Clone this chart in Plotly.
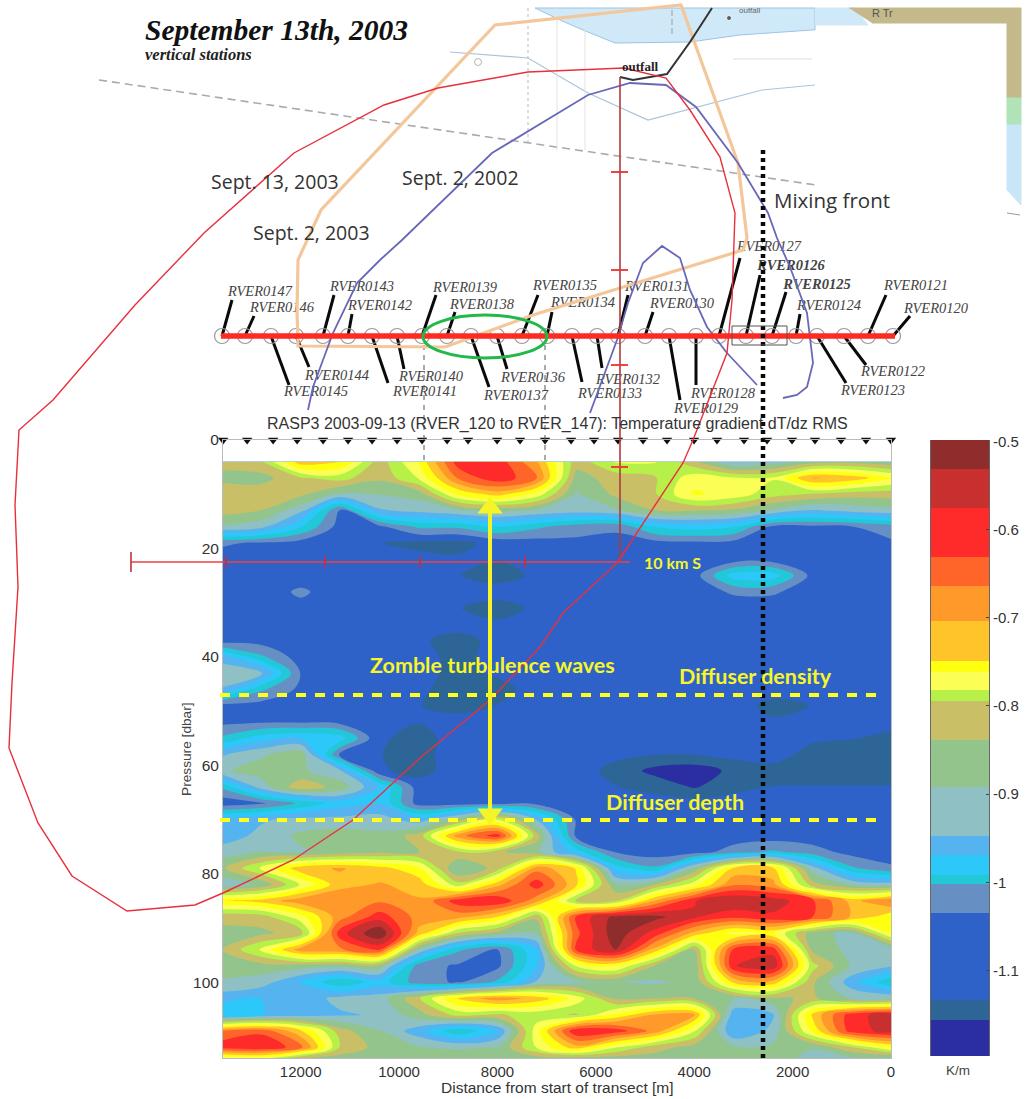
import numpy as np
import plotly.graph_objects as go

W, H = 1026, 1099

# ---------- contour data ----------
distance_m = [13600,12800,12000,11200,10400,9600,8800,8000,7200,6400,5600,4800,4000,3200,2400,1600,800,0]
pressure_dbar = [4,7,10,13,16,19,22,25,28,31,34,37,40,43,46,49,52,55,58,61,64,67,70,73,76,79,82,85,88,91,94,97,100,103,106,109,112,114]
gradient_hundredths = [
 [-82,-80,-72,-74,-82,-76,-60,-60,-70,-82,-78,-78,-83,-95,-92,-87,-86,-88],
 [-86,-86,-80,-79,-83,-78,-66,-59,-66,-86,-82,-80,-77,-78,-78,-70,-72,-76],
 [-80,-81,-83,-90,-89,-87,-76,-73,-77,-90,-83,-80,-76,-77,-79,-80,-82,-82],
 [-82,-84,-93,-105,-95,-93,-90,-88,-90,-92,-90,-84,-84,-85,-90,-95,-93,-91],
 [-90,-93,-99,-108,-106,-100,-100,-99,-100,-102,-103,-99,-98,-99,-106,-106,-104,-102],
 [-103,-105,-108,-112,-113,-114,-114,-110,-108,-106,-106,-107,-106,-107,-108,-108,-107,-105],
 [-108,-109,-109,-110,-110,-110,-112,-113,-109,-109,-109,-109,-109,-109,-109,-109,-109,-108],
 [-109,-109,-108,-109,-109,-109,-113,-114,-112,-109,-109,-110,-108,-98,-98,-107,-109,-109],
 [-109,-108,-103,-108,-110,-110,-110,-110,-109,-109,-109,-109,-109,-103,-103,-109,-109,-109],
 [-109,-108,-106,-109,-110,-110,-113,-114,-112,-109,-109,-109,-109,-109,-109,-109,-109,-109],
 [-109,-109,-109,-109,-110,-110,-110,-112,-110,-109,-109,-109,-109,-109,-109,-109,-109,-109],
 [-109,-108,-109,-109,-110,-112,-114,-111,-109,-109,-109,-109,-109,-109,-113,-113,-109,-109],
 [-96,-100,-109,-109,-109,-110,-114,-110,-109,-109,-109,-109,-109,-109,-110,-110,-109,-109],
 [-90,-93,-104,-109,-109,-110,-114,-112,-109,-109,-109,-109,-109,-109,-109,-109,-109,-109],
 [-95,-100,-106,-109,-109,-112,-114,-114,-110,-109,-109,-109,-109,-109,-109,-109,-109,-109],
 [-108,-108,-109,-109,-109,-113,-114,-113,-109,-109,-109,-109,-109,-109,-114,-113,-109,-109],
 [-106,-105,-105,-107,-112,-113,-110,-109,-109,-109,-109,-109,-109,-109,-112,-109,-109,-110],
 [-100,-98,-97,-98,-112,-114,-110,-109,-109,-109,-109,-110,-110,-109,-109,-112,-113,-114],
 [-95,-90,-86,-105,-113,-114,-109,-109,-109,-109,-111,-113,-113,-110,-110,-114,-114,-114],
 [-90,-87,-88,-94,-112,-114,-109,-109,-109,-109,-114,-117,-118,-115,-114,-114,-114,-114],
 [-100,-92,-81,-86,-97,-109,-109,-109,-109,-109,-113,-114,-116,-114,-113,-113,-113,-113],
 [-110,-105,-100,-98,-97,-108,-109,-108,-107,-109,-109,-109,-109,-109,-109,-109,-109,-109],
 [-96,-95,-93,-93,-92,-96,-86,-78,-95,-105,-109,-109,-109,-109,-109,-109,-109,-109],
 [-96,-93,-88,-86,-88,-82,-68,-60,-82,-106,-109,-109,-109,-109,-109,-109,-109,-109],
 [-92,-89,-90,-87,-85,-84,-80,-83,-88,-98,-104,-109,-108,-102,-100,-102,-107,-108],
 [-85,-78,-72,-70,-73,-76,-90,-82,-68,-75,-98,-100,-88,-74,-74,-92,-100,-103],
 [-93,-88,-78,-72,-70,-72,-79,-72,-60,-74,-88,-84,-77,-67,-69,-82,-90,-92],
 [-75,-73,-68,-67,-67,-70,-60,-58,-69,-80,-80,-70,-58,-53,-55,-62,-72,-66],
 [-83,-82,-77,-68,-60,-68,-69,-75,-83,-62,-52,-52,-57,-62,-59,-63,-71,-76],
 [-85,-85,-82,-60,-50,-72,-80,-86,-89,-64,-51,-60,-72,-77,-76,-87,-91,-76],
 [-84,-78,-68,-67,-62,-90,-100,-104,-97,-62,-53,-72,-84,-62,-60,-85,-91,-92],
 [-86,-86,-87,-88,-86,-102,-105,-106,-97,-78,-76,-84,-88,-58,-54,-79,-90,-94],
 [-90,-92,-97,-100,-98,-102,-105,-100,-94,-91,-89,-90,-88,-74,-72,-83,-96,-100],
 [-96,-97,-96,-93,-92,-80,-74,-68,-72,-77,-85,-84,-84,-89,-85,-83,-90,-90],
 [-99,-97,-96,-95,-94,-86,-79,-80,-79,-80,-76,-70,-70,-96,-95,-74,-60,-55],
 [-66,-64,-74,-82,-89,-96,-100,-97,-77,-58,-60,-68,-78,-97,-93,-76,-60,-56],
 [-60,-58,-65,-80,-86,-89,-90,-89,-78,-72,-78,-82,-86,-88,-88,-89,-80,-76],
 [-78,-77,-84,-86,-86,-86,-86,-86,-86,-86,-86,-86,-86,-87,-88,-90,-90,-90],
]
level_edges = [-1.197,-1.156,-1.133,-1.035,-1.002,-0.992,-0.969,-0.947,-0.892,-0.839,-0.795,-0.782,-0.762,-0.749,-0.704,-0.664,-0.631,-0.576,-0.531,-0.4985]
level_colors = ["#2b2ea0","#2d6696","#2f62c8","#6690c4","#22c8d8","#2cc8fa","#55b4f0","#8fc1c4","#93c48c","#c9bf66","#b8f04a","#fbff55","#ffff10","#ffc42a","#ff9a2a","#ff6528","#ff2a2a","#c8302f","#8f2d2d"]
colorbar_ticks = [-0.5,-0.6,-0.7,-0.8,-0.9,-1.0,-1.1]
colorbar_ticktext = ["-0.5","-0.6","-0.7","-0.8","-0.9","-1","-1.1"]
pressure_ticks = [0,20,40,60,80,100]
distance_ticks = [12000,10000,8000,6000,4000,2000,0]
distance_ticktext = ["12000","10000","8000","6000","4000","2000","0"]
station_distance_m = [13577,13089,12561,12073,11545,11037,10549,10041,9533,9024,8598,8008,7541,7033,6504,6037,5549,5041,4553,4004,3537,2988,2520,2012,1545,1016,508,0]

# ---------- map overlay, in page pixels ----------
sept13_x = [230,195,127,72,38,9,12,18,15,19,53,135,204,294,384,438,528,624,666,690,720,735,732,727,693,683,640,618,563,540,490,420,353,293,223,230]
sept13_y = [890,905,911,876,823,748,683,587,505,430,400,305,233,153,105,88,72,68,78,110,157,213,300,353,440,463,528,562,613,647,700,758,820,860,893,890]
sept2_2002_x = [308,313,333,357,380,402,492,522,588,630,666,696,738,768,777,790,807,813,807,797,783]
sept2_2002_y = [410,387,333,283,260,240,153,135,95,83,85,107,163,213,238,267,313,363,387,395,398]
bump_2002_x = [590,607,617,628,643,662,680,690,707,727,757]
bump_2002_y = [413,367,340,303,263,246,258,290,327,353,385]
sept2_2003_x = [445,298,297,298,321,495,681,738,747,743,620,533,445]
sept2_2003_y = [347,346,310,260,210,25,5,163,238,250,288,315,347]
outfall_x = [712,690,667,633,620]
outfall_y = [8,42,74,80,77]

circle_x = [222,245,271,296,323,348,372,397,422,447,471,497,522,547,572,597,618,645,669,696,719,746,772,796,817,844,868,893]
stem_end_x = [232,254,289,309,334,352,388,404,436,455,489,507,538,552,582,602,628,653,680,696,740,760,786,800,846,866,886,910]
stem_end_y = [300,316,385,367,295,314,383,369,295,312,387,369,295,312,382,368,295,312,400,385,258,275,292,314,383,365,295,316]
station_names = ["RVER0147","RVER0146","RVER0145","RVER0144","RVER0143","RVER0142","RVER0141","RVER0140","RVER0139","RVER0138","RVER0137","RVER0136","RVER0135","RVER0134","RVER0133","RVER0132","RVER0131","RVER0130","RVER0129","RVER0128","RVER0127","RVER0126","RVER0125","RVER0124","RVER0123","RVER0122","RVER0121","RVER0120"]
label_x = [260,282,316,337,362,380,425,431,465,482,516,533,565,583,610,628,657,682,706,723,769,791,817,829,873,893,916,936]
label_y = [292,308,392,376,287,306,392,377,288,305,396,378,286,303,394,380,287,304,409,394,247,266,285,306,391,372,286,309]
bold_stations = ["RVER0126","RVER0125"]

fig = go.Figure()

# contour
z = np.array(gradient_hundredths, dtype=float) / 100
z_index = np.interp(z, level_edges, np.arange(len(level_edges)))
n = len(level_colors)
steps = []
for i, c in enumerate(level_colors):
    steps += [[i / n, c], [(i + 1) / n, c]]
fig.add_trace(go.Contour(
    x=distance_m, y=pressure_dbar, z=z_index, zmin=0, zmax=n,
    colorscale=steps, showscale=False, hoverinfo="skip",
    contours=dict(start=1, end=n - 1, size=1, coloring="fill"),
    line=dict(width=0, smoothing=1.0), xaxis="x", yaxis="y"))
fig.add_trace(go.Scatter(
    x=station_distance_m, y=[0] * len(station_distance_m), mode="markers",
    marker=dict(symbol="triangle-down", size=9, color="#111"),
    cliponaxis=False, xaxis="x", yaxis="y", showlegend=False))

# colorbar
fig.add_trace(go.Heatmap(
    x=[0, 1], y=level_edges, z=[[i, i] for i in range(n)], zmin=-0.5, zmax=n - 0.5,
    colorscale=[[s[0], s[1]] for s in steps], showscale=False, hoverinfo="skip",
    xaxis="x3", yaxis="y3"))


def px_line(x, y, color, width, dash="solid", fill=None, fillcolor=None):
    fig.add_trace(go.Scatter(
        x=x, y=y, mode="lines", line=dict(color=color, width=width, dash=dash),
        fill=fill, fillcolor=fillcolor, xaxis="x2", yaxis="y2",
        showlegend=False, hoverinfo="skip", cliponaxis=False))


# map background
px_line([535,560,583,615,690,740,812,815,815,535], [8,20,30,43,42,35,30,30,8,8], "#9cc4e4", 1, fill="toself", fillcolor="#d0e9f8")
px_line([815,855,868,815], [8,8,25,25], "#d0e9f8", 1, fill="toself", fillcolor="#d0e9f8")
px_line([849,1021,1021,1007,1007,872], [8,8,98,98,23,23], "#c3b98a", 1, fill="toself", fillcolor="#c3b98a")
px_line([1007,1021,1021,1007,1007], [98,98,125,125,98], "#b0e4b8", 1, fill="toself", fillcolor="#b0e4b8")
px_line([1007,1021,1021,1007,1007], [125,125,205,190,125], "#c8e6f8", 1, fill="toself", fillcolor="#c8e6f8")
px_line([1007,1020], [213,215], "#999", 1)
px_line([99,816], [80,185], "#aaaaaa", 1.6, "8px,5px")
px_line([450,528,588,648,762,815], [52,58,93,120,90,85], "#a8c4dc", 1.2)
px_line([528,528], [8,142], "#bbbbbb", 1, "3px,3px")
px_line([557,557], [8,150], "#e3e3e3", 1)
px_line([585,585], [8,150], "#e3e3e3", 1)
px_line([733,812], [59,59], "#dddddd", 1)
px_line([672,672], [10,37], "#aaaaaa", 1.2, "6px,3px")
px_line([424,424], [345,462], "#555555", 1, "5px,5px")
px_line([545,545], [345,462], "#555555", 1, "5px,5px")

# stems
for x0, x1, y1 in zip(circle_x, stem_end_x, stem_end_y):
    px_line([x0, x1], [336, y1], "#0a0a0a", 3)
fig.add_trace(go.Scatter(
    x=circle_x, y=[336] * len(circle_x), mode="markers",
    marker=dict(symbol="circle-open", size=15, color="#999", line=dict(width=1.2, color="#999")),
    xaxis="x2", yaxis="y2", showlegend=False, hoverinfo="skip"))
fig.add_trace(go.Scatter(
    x=label_x, y=label_y, mode="text",
    text=[f"<b><i>{s}</i></b>" if s in bold_stations else f"<i>{s}</i>" for s in station_names],
    textfont=dict(family="Liberation Serif", size=14.5, color="#444"),
    xaxis="x2", yaxis="y2", showlegend=False, hoverinfo="skip"))

# curves
px_line(sept2_2003_x, sept2_2003_y, "#f3c79a", 3.2)
px_line(sept2_2002_x, sept2_2002_y, "#6868b8", 1.8)
px_line(bump_2002_x, bump_2002_y, "#6868b8", 1.8)
px_line(outfall_x, outfall_y, "#333333", 2)
px_line([620,620], [77,562], "#b03a3a", 1.6)
px_line([131,630], [562,562], "#f04040", 1.4)
px_line(sept13_x, sept13_y, "#e8303c", 1.4)
px_line([221,895], [336,336], "#ff2a20", 5.5)
for ty in [172,270,365,467]:
    px_line([611,628], [ty,ty], "#f03030", 1.8)
for tx, half in [(131,10),(226,6),(325,6),(420,6),(525,6)]:
    px_line([tx,tx], [562-half,562+half], "#c03040", 1.6)

# mixing front, diffuser lines, arrow
px_line([763,763], [150,1058], "#0a0a0a", 4.5, "4px,4px")
px_line([220,885], [695,695], "#ffff20", 4, "10px,9px")
px_line([220,885], [820,820], "#ffff20", 4, "10px,9px")
px_line([490,490], [505,820], "#f4f428", 4)
fig.add_trace(go.Scatter(
    x=[490,490], y=[508,814], mode="markers",
    marker=dict(symbol=["triangle-up","triangle-down"], size=22, color="#f4f428", line=dict(width=0)),
    xaxis="x2", yaxis="y2", showlegend=False, hoverinfo="skip"))
fig.add_trace(go.Scatter(
    x=[729,478], y=[18,62], mode="markers",
    marker=dict(symbol=["circle","circle-open"], size=[5,7], color=["#222","#999"]),
    xaxis="x2", yaxis="y2", showlegend=False, hoverinfo="skip"))

# texts
def note(x, y, text, size, color="#222", family="Liberation Sans", anchor="center", angle=0):
    fig.add_annotation(x=x, y=y, xref="x2", yref="y2", text=text, showarrow=False,
                       font=dict(size=size, color=color, family=family),
                       xanchor=anchor, yanchor="middle", textangle=angle)

note(143, 30, "<b><i>September 13th, 2003</i></b>", 29.5, "#111", "Liberation Serif", "left")
note(143, 54, "<b><i>vertical stations</i></b>", 16.5, "#222", "Liberation Serif", "left")
note(275, 181, "Sept. 13, 2003", 19.5, "#333", "Open Sans")
note(460, 177, "Sept. 2, 2002", 19.5, "#333", "Open Sans")
note(311, 232, "Sept. 2, 2003", 19.5, "#333", "Open Sans")
note(832, 200, "Mixing front", 20.5, "#333", "Open Sans")
note(640, 66, "<b>outfall</b>", 13, "#222", "Liberation Serif")
note(750, 10, "outfall", 8, "#666")
note(882, 13, "R Tr", 11, "#555")
note(557, 424, "RASP3 2003-09-13 (RVER_120 to RVER_147): Temperature gradient dT/dz RMS", 16, "#333")
note(186, 749, "Pressure [dbar]", 13.7, "#444", angle=-90)
note(557, 1087, "Distance from start of transect [m]", 15.5, "#333")
note(958, 1070, "K/m", 13.5, "#444")
note(492, 665, "<b>Zomble turbulence waves</b>", 21.5, "#f6f628", "Lato")
note(672, 562, "<b>10 km S</b>", 16, "#f6f628", "Lato")
note(755, 676, "<b>Diffuser density</b>", 21.5, "#f6f628", "Lato")
note(675, 802, "<b>Diffuser depth</b>", 21.5, "#f6f628", "Lato")

fig.add_shape(type="circle", x0=423, x1=547, y0=315, y1=358, xref="x2", yref="y2",
              line=dict(color="#22b84a", width=3))
fig.add_shape(type="rect", x0=732, x1=787, y0=326, y1=345, xref="x2", yref="y2",
              line=dict(color="#555", width=1))

grey = "#bbbbbb"
fig.update_layout(
    width=W, height=H, margin=dict(l=0, r=0, t=0, b=0, autoexpand=False), autosize=False,
    paper_bgcolor="white", plot_bgcolor="rgba(0,0,0,0)", showlegend=False,
    xaxis=dict(domain=[223 / W, 891 / W], range=[13580, 0], tickvals=distance_ticks, ticktext=distance_ticktext,
               tickfont=dict(size=15, color="#333", family="Liberation Sans"),
               showgrid=False, zeroline=False, showline=True, linecolor=grey, mirror=True,
               ticks="", anchor="y", automargin=False),
    yaxis=dict(domain=[(H - 1058) / H, (H - 440) / H], range=[114, 0], tickvals=pressure_ticks,
               tickfont=dict(size=15.5, color="#333", family="Liberation Sans"),
               showgrid=False, zeroline=False, showline=True, linecolor=grey, mirror=True,
               ticks="", anchor="x", automargin=False),
    xaxis2=dict(domain=[0, 1], range=[0, W], visible=False, anchor="y2", fixedrange=True),
    yaxis2=dict(domain=[0, 1], range=[H, 0], visible=False, anchor="x2", fixedrange=True),
    xaxis3=dict(domain=[931 / W, 989 / W], range=[0, 1], visible=False, anchor="y3"),
    yaxis3=dict(domain=[(H - 1056) / H, (H - 440) / H], range=[-1.197, -0.4985],
                tickvals=colorbar_ticks, ticktext=colorbar_ticktext, side="right",
                tickfont=dict(size=15, color="#333", family="Liberation Sans"),
                showgrid=False, zeroline=False, showline=True, linecolor="#666", mirror=True,
                ticks="inside", ticklen=3, anchor="x3", automargin=False),
)

fig.write_html("out.html", config={"displayModeBar": False},
               post_script="document.documentElement.style.margin='0';document.documentElement.style.overflow='hidden';document.body.style.margin='0';document.body.style.padding='0';var g=document.querySelector('.plotly-graph-div');g.style.position='fixed';g.style.top='0';g.style.left='0';")
